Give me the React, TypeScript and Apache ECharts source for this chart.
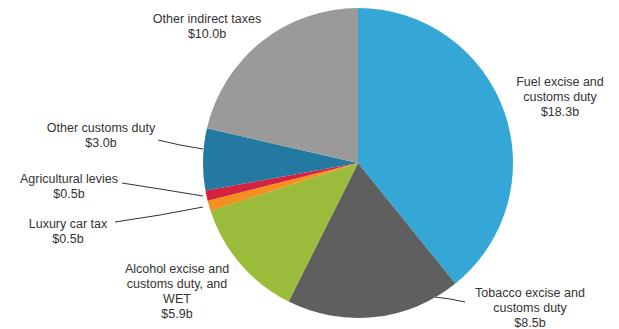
import React, { useEffect, useRef } from "react";
import * as echarts from "echarts";

const categories = [
  "Fuel excise and\ncustoms duty",
  "Tobacco excise and\ncustoms duty",
  "Alcohol excise and\ncustoms duty, and\nWET",
  "Luxury car tax",
  "Agricultural levies",
  "Other customs duty",
  "Other indirect taxes",
];
const values = [18.3, 8.5, 5.9, 0.5, 0.5, 3.0, 10.0];
const colors = ["#34A7D7", "#5F5F5F", "#9BBB3B", "#F5901E", "#D42341", "#2379A1", "#9A9A9A"];

// label placement (centre of each label block) and leader lines
const labelPos: [number, number][] = [
  [560, 97],
  [530, 308],
  [177, 291],
  [68, 231],
  [69, 186],
  [101, 135],
  [207, 26],
];
const leaderLines: ([number, number][] | null)[] = [
  null,
  [[435, 297], [450, 299], [465, 302]],
  null,
  [[203, 207], [160, 215], [115, 222]],
  [[203, 196], [160, 189], [122, 183]],
  [[203, 149], [180, 145], [158, 140]],
  null,
];

export default function App() {
  const ref = useRef<HTMLDivElement>(null);
  useEffect(() => {
    if (!ref.current) return;
    const chart = echarts.init(ref.current, null, { renderer: "svg" });
    chart.setOption({
      animation: false,
      backgroundColor: "#ffffff",
      series: [
        {
          type: "pie",
          center: [358, 163],
          radius: 155,
          startAngle: 90,
          clockwise: true,
          avoidLabelOverlap: false,
          itemStyle: { borderWidth: 0 },
          emphasis: { disabled: true },
          label: {
            show: true,
            position: "outside",
            formatter: (p: any) => `${p.name}\n$${Number(p.value).toFixed(1)}b`,
            fontFamily: "Liberation Sans, Arial, sans-serif",
            fontSize: 12.5,
            lineHeight: 15,
            color: "#333333",
            align: "center",
          },
          labelLine: { show: true, lineStyle: { color: "#333333", width: 1 }, length: 10, length2: 10 },
          labelLayout: (params: any) => {
            const i = params.dataIndex;
            const [x, y] = labelPos[i];
            const res: any = { x, y, align: "center", verticalAlign: "middle" };
            if (leaderLines[i]) res.labelLinePoints = leaderLines[i];
            return res;
          },
          data: categories.map((name, i) => ({
            name,
            value: values[i],
            itemStyle: { color: colors[i] },
            labelLine: { show: !!leaderLines[i] },
          })),
        },
      ],
    });
    return () => chart.dispose();
  }, []);
  return (
    <div
      ref={ref}
      style={{ position: "absolute", left: 0, top: 0, width: 619, height: 329 }}
    />
  );
}
